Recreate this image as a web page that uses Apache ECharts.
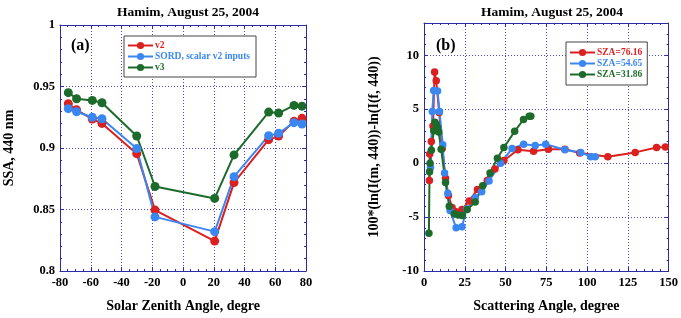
<!DOCTYPE html>
<html><head><meta charset="utf-8">
<script src="https://cdn.jsdelivr.net/npm/echarts@6/dist/echarts.min.js"></script>
<style>html,body{margin:0;padding:0;background:#fff}#c{width:681px;height:318px}</style>
</head><body><div id="c"></div>
<script>
// Panel (a): SSA vs solar zenith angle
const sza = [-74.6, -69.2, -59.0, -52.7, -30.1, -18.2, 20.6, 33.2, 55.7, 62.2, 72.2, 77.4];
const ssaV2 = [0.936, 0.931, 0.9235, 0.920, 0.8954, 0.8495, 0.8243, 0.8719, 0.9068, 0.9097, 0.9217, 0.9241];
const ssaSord = [0.932, 0.9295, 0.925, 0.9238, 0.8995, 0.844, 0.832, 0.8767, 0.910, 0.912, 0.9206, 0.9195];
const ssaV3 = [0.945, 0.940, 0.9387, 0.9368, 0.9098, 0.8687, 0.859, 0.8944, 0.9292, 0.9284, 0.9346, 0.934];
const namesA = ['v2', 'SORD, scalar v2 inputs', 'v3'];

// Panel (b): radiance difference vs scattering angle
const ang76 = [3.3, 3.5, 4.5, 5.5, 6.5, 7.5, 9.3, 11.2, 13.2, 15.0, 17.2, 19.7, 23.3, 27.7, 32.8, 38.8, 43.5, 49.0, 57.6, 67.2, 76.3, 86.4, 95.5, 112.7, 129.5, 142.6, 148.0];
const dif76 = [-1.6, 0.85, 2.0, 3.45, 8.45, 7.65, 4.7, 1.35, -1.4, -3.0, -4.1, -4.5, -4.3, -3.5, -2.45, -1.6, -0.55, 0.25, 1.25, 1.1, 1.3, 1.3, 0.95, 0.6, 1.0, 1.45, 1.5];
const ang54 = [4.0, 5.1, 5.9, 8.3, 9.5, 11.5, 12.6, 14.6, 16.0, 19.7, 23.3, 26.1, 31.4, 35.4, 39.9, 47.0, 54.0, 61.1, 68.2, 74.6, 86.4, 96.1, 102.2, 105.0];
const dif54 = [-0.4, 4.8, 6.75, 6.7, 4.8, 1.7, -0.9, -2.8, -4.4, -6.0, -5.9, -4.25, -3.2, -2.65, -1.65, 0.0, 1.35, 1.75, 1.65, 1.75, 1.25, 1.0, 0.6, 0.6];
const ang31 = [3.0, 3.4, 3.7, 4.5, 6.0, 6.7, 7.5, 8.3, 9.0, 10.5, 13.2, 15.5, 18.6, 21.0, 23.5, 26.5, 31.4, 36.0, 40.5, 45.0, 49.0, 55.6, 61.0, 64.5, 65.5];
const dif31 = [-6.5, -0.8, 0.0, 1.2, 3.0, 3.8, 3.6, 3.3, 2.9, 1.3, -1.8, -4.0, -4.7, -4.8, -4.85, -4.3, -3.6, -2.1, -0.9, 0.45, 1.45, 2.95, 4.05, 4.35, 4.35];
const namesB = ['SZA=76.16', 'SZA=54.65', 'SZA=31.86'];

const titleText = 'Hamim, August 25, 2004';
const xNameA = 'Solar Zenith Angle, degre';
const yNameA = 'SSA, 440 nm';
const xNameB = 'Scattering Angle, degree';
const yNameB = '100*(ln(I(m, 440))-ln(I(f, 440))';

const RED = '#dc1f1f', BLUE = '#3b87f2', GREEN = '#1d6b2a';
const FONT = 'Liberation Serif';
const AXC = '#2b2ba6';
const GRIDC = '#4848d8';

const zip = (xs, ys) => xs.map((x, i) => [x, ys[i]]);

function mkSeries(name, xs, ys, color, xi, yi, size) {
  return {
    type: 'line', name, data: zip(xs, ys), xAxisIndex: xi, yAxisIndex: yi,
    symbol: 'circle', symbolSize: size, color,
    lineStyle: { width: 2, color }, itemStyle: { color },
    animation: false
  };
}

const lbl = { fontFamily: FONT, fontWeight: 'bold', fontSize: 12.5, color: '#000' };
const nameStyle = { fontFamily: FONT, fontWeight: 'bold', fontSize: 14, color: '#000' };

function mainAxis(opts) {
  return Object.assign({
    type: 'value',
    axisLine: { show: true, onZero: false, lineStyle: { color: AXC, width: 1 } },
    axisTick: { show: true, inside: true, length: 4, lineStyle: { color: AXC } },
    minorTick: { show: true, splitNumber: 5, length: 2, lineStyle: { color: AXC } },
    splitLine: { show: true, lineStyle: { color: GRIDC, type: [1, 2], width: 1 } },
    axisLabel: Object.assign({ margin: 5 }, lbl),
    nameLocation: 'middle', nameTextStyle: nameStyle
  }, opts);
}
function mirrorAxis(opts) {
  return Object.assign({
    type: 'value',
    axisLine: { show: true, onZero: false, lineStyle: { color: AXC, width: 1 } },
    axisTick: { show: true, inside: true, length: 4, lineStyle: { color: AXC } },
    minorTick: { show: true, splitNumber: 5, length: 2, lineStyle: { color: AXC } },
    splitLine: { show: false },
    axisLabel: { show: false }
  }, opts);
}

const legendBase = {
  orient: 'vertical', backgroundColor: '#fff', borderColor: '#444', borderWidth: 1,
  itemWidth: 25, itemHeight: 9, itemGap: 0
};

const option = {
  backgroundColor: '#fff',
  animation: false,
  title: [
    { text: titleText, left: 183, top: 1, textAlign: 'center', textStyle: { fontFamily: FONT, fontWeight: 'bold', fontSize: 13.5, color: '#000' } },
    { text: titleText, left: 547, top: 1, textAlign: 'center', textStyle: { fontFamily: FONT, fontWeight: 'bold', fontSize: 13.5, color: '#000' } },
    { text: '(a)', left: 66, top: 33, textStyle: { fontFamily: FONT, fontWeight: 'bold', fontSize: 16, color: '#000' } },
    { text: '(b)', left: 431, top: 33, textStyle: { fontFamily: FONT, fontWeight: 'bold', fontSize: 16, color: '#000' } }
  ],
  legend: [
    Object.assign({}, legendBase, {
      left: 124, top: 36, padding: [4, 6, 4, 3],
      data: [
        { name: namesA[0], textStyle: { color: RED } },
        { name: namesA[1], textStyle: { color: BLUE } },
        { name: namesA[2], textStyle: { color: GREEN } }
      ],
      textStyle: { fontFamily: FONT, fontWeight: 'bold', fontSize: 9.5, lineHeight: 11, padding: [0, 0, 0, -3] }
    }),
    Object.assign({}, legendBase, {
      left: 566, top: 42, padding: [5, 5, 5, 3],
      data: [
        { name: namesB[0], textStyle: { color: RED } },
        { name: namesB[1], textStyle: { color: BLUE } },
        { name: namesB[2], textStyle: { color: GREEN } }
      ],
      textStyle: { fontFamily: FONT, fontWeight: 'bold', fontSize: 9.5, lineHeight: 11, padding: [0, 0, 0, -3] }
    })
  ],
  grid: [
    { left: 60, top: 25, width: 246, height: 246, show: false },
    { left: 424, top: 23, width: 248, height: 249, show: false }
  ],
  xAxis: [
    mainAxis({ gridIndex: 0, min: -80, max: 80, interval: 20, name: xNameA, nameGap: 28, minorTick: { show: true, splitNumber: 4, length: 2, lineStyle: { color: AXC } } }),
    mirrorAxis({ gridIndex: 0, position: 'top', min: -80, max: 80, interval: 20, minorTick: { show: true, splitNumber: 4, length: 2, lineStyle: { color: AXC } } }),
    mainAxis({ gridIndex: 1, min: 0, max: 150, interval: 25, name: xNameB, nameGap: 28 }),
    mirrorAxis({ gridIndex: 1, position: 'top', min: 0, max: 150, interval: 25 })
  ],
  yAxis: [
    mainAxis({ gridIndex: 0, min: 0.8, max: 1, interval: 0.05, name: yNameA, nameGap: 44,
      axisLabel: Object.assign({ margin: 5, formatter: v => String(+v.toFixed(2)) }, lbl) }),
    mirrorAxis({ gridIndex: 0, position: 'right', min: 0.8, max: 1, interval: 0.05 }),
    mainAxis({ gridIndex: 1, min: -10, max: 13, interval: 5, name: yNameB, nameGap: 43,
      axisLabel: Object.assign({ margin: 5, formatter: v => (v % 5 === 0 ? String(v) : '') }, lbl) }),
    mirrorAxis({ gridIndex: 1, position: 'right', min: -10, max: 13, interval: 5 })
  ],
  series: [
    mkSeries(namesA[0], sza, ssaV2, RED, 0, 0, 9),
    mkSeries(namesA[1], sza, ssaSord, BLUE, 0, 0, 9),
    mkSeries(namesA[2], sza, ssaV3, GREEN, 0, 0, 9),
    mkSeries(namesB[0], ang76, dif76, RED, 2, 2, 7.5),
    mkSeries(namesB[1], ang54, dif54, BLUE, 2, 2, 7.5),
    mkSeries(namesB[2], ang31, dif31, GREEN, 2, 2, 7.5)
  ]
};

const chart = echarts.init(document.getElementById('c'), null, { renderer: 'canvas' });
chart.setOption(option);
</script>
</body></html>
